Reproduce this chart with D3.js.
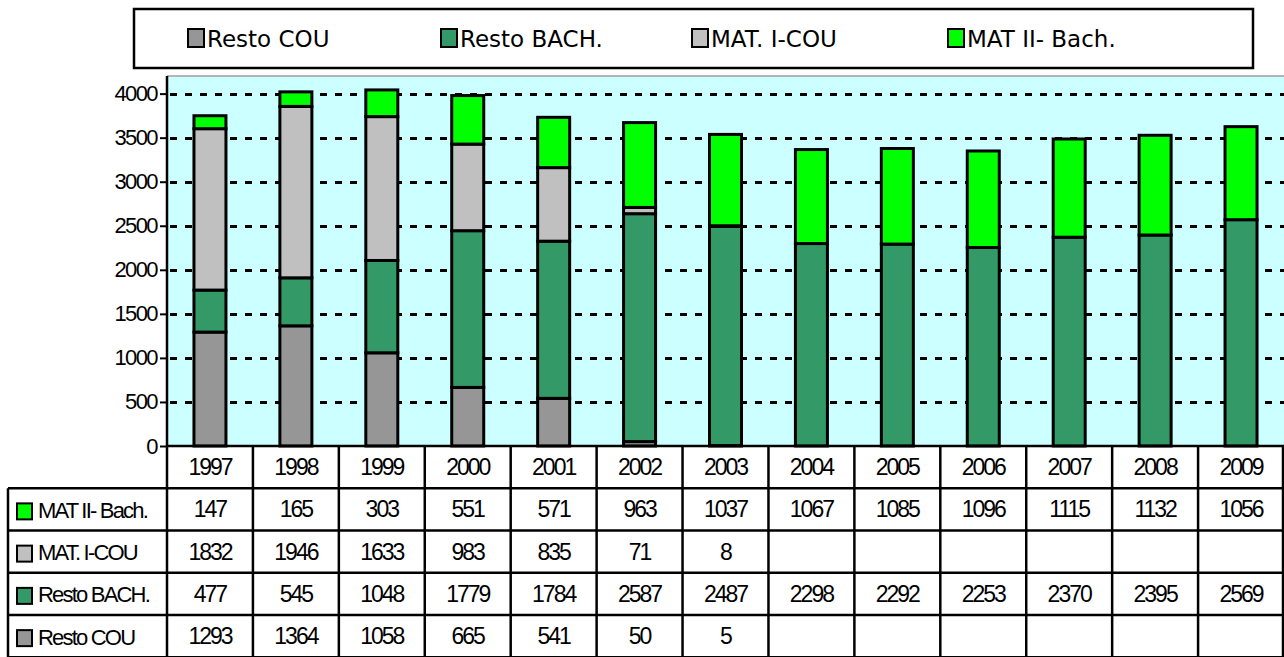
<!DOCTYPE html>
<html>
<head>
<meta charset="utf-8">
<script src="https://d3js.org/d3.v7.min.js"></script>
<style>
  body { margin: 0; background: #fff; }
  svg { display: block; }
  .num { font-family: "Liberation Sans", Arial, sans-serif; }
  .leg { font-family: "Comic Sans MS", "DejaVu Sans", sans-serif; }
</style>
</head>
<body>
<svg id="chart" width="1284" height="657"></svg>
<script>
const years = ["1997", "1998", "1999", "2000", "2001", "2002", "2003", "2004", "2005", "2006", "2007", "2008", "2009"];
const restoCOU = [1293, 1364, 1058, 665, 541, 50, 5, null, null, null, null, null, null];
const restoBACH = [477, 545, 1048, 1779, 1784, 2587, 2487, 2298, 2292, 2253, 2370, 2395, 2569];
const matICOU = [1832, 1946, 1633, 983, 835, 71, 8, null, null, null, null, null, null];
const matIIBach = [147, 165, 303, 551, 571, 963, 1037, 1067, 1085, 1096, 1115, 1132, 1056];
const yTicks = [0, 500, 1000, 1500, 2000, 2500, 3000, 3500, 4000];

// stack order bottom -> top
const series = [
  { key: "restoCOU", name: "Resto COU", tableName: "Resto COU", color: "#969696", values: restoCOU },
  { key: "restoBACH", name: "Resto BACH.", tableName: "Resto BACH.", color: "#339966", values: restoBACH },
  { key: "matICOU", name: "MAT. I-COU", tableName: "MAT. I-COU", color: "#c0c0c0", values: matICOU },
  { key: "matIIBach", name: "MAT II- Bach.", tableName: "MAT II- Bach.", color: "#00ff00", values: matIIBach },
];

const svg = d3.select("#chart");
const plotLeft = 167, plotRight = 1284, plotTop = 76, plotBottom = 446;
const rowH = 42.25, labelLeft = 8;

const x = d3.scaleBand().domain(years).range([plotLeft, plotRight]).paddingInner(0).paddingOuter(0);
const y = d3.scaleLinear().domain([0, 4200]).range([plotBottom, plotTop]);
const barW = 32;

// plot background
svg.append("rect")
  .attr("x", plotLeft).attr("y", plotTop)
  .attr("width", plotRight - plotLeft).attr("height", plotBottom - plotTop)
  .attr("fill", "#ccffff");
svg.append("line")
  .attr("x1", plotLeft).attr("x2", plotRight)
  .attr("y1", plotTop).attr("y2", plotTop)
  .attr("stroke", "#b4b4b4").attr("stroke-width", 2);

// gridlines
svg.append("g")
  .selectAll("line")
  .data(yTicks.filter((d) => d > 0))
  .enter()
  .append("line")
  .attr("x1", plotLeft).attr("x2", plotRight)
  .attr("y1", (d) => Math.round(y(d)) + 0.5).attr("y2", (d) => Math.round(y(d)) + 0.5)
  .attr("stroke", "#000").attr("stroke-width", 3)
  .attr("stroke-dasharray", "7,8")
  .attr("stroke-dashoffset", -3);

// stacked bars
const rows = years.map((yr, i) => {
  const o = { year: yr };
  series.forEach((s) => (o[s.key] = s.values[i] || 0));
  return o;
});
const stacked = d3.stack().keys(series.map((s) => s.key))(rows);

svg.append("g")
  .selectAll("g")
  .data(stacked)
  .enter()
  .append("g")
  .attr("fill", (d, i) => series[i].color)
  .selectAll("rect")
  .data((d) => d.filter((p) => p[1] - p[0] > 0))
  .enter()
  .append("rect")
  .attr("x", (d) => x(d.data.year) + x.bandwidth() / 2 - barW / 2)
  .attr("y", (d) => y(d[1]))
  .attr("width", barW)
  .attr("height", (d) => y(d[0]) - y(d[1]))
  .attr("stroke", "#000")
  .attr("stroke-width", 3);

// y axis
const yAxis = svg.append("g")
  .attr("transform", `translate(${plotLeft},0)`)
  .call(d3.axisLeft(y).tickValues(yTicks).tickSize(7).tickPadding(3).tickFormat(d3.format("d")));
yAxis.select(".domain").attr("stroke", "#000").attr("stroke-width", 2.5)
  .attr("d", `M0,${plotTop}V${plotBottom}`);
yAxis.selectAll(".tick line").attr("stroke", "#000").attr("stroke-width", 2);
yAxis.selectAll(".tick text")
  .attr("class", "num")
  .attr("fill", "#000")
  .style("font-size", "22px")
  .style("letter-spacing", "-1.6px");

// data table
const table = svg.append("g");
const tableRows = series.slice().reverse(); // MAT II on top
const headerTop = plotBottom;
const bodyTop = headerTop + rowH;

// year header
table.selectAll("text.year")
  .data(years)
  .enter()
  .append("text")
  .attr("class", "num year")
  .attr("x", (d) => x(d) + x.bandwidth() / 2)
  .attr("y", headerTop + rowH / 2)
  .attr("text-anchor", "middle")
  .attr("dominant-baseline", "central")
  .style("font-size", "23px")
  .style("letter-spacing", "-2px")
  .text((d) => d);

tableRows.forEach((s, r) => {
  const cy = bodyTop + r * rowH + rowH / 2;
  const g = table.append("g");
  g.selectAll("text")
    .data(s.values.map((v, i) => ({ v, yr: years[i] })).filter((d) => d.v !== null))
    .enter()
    .append("text")
    .attr("class", "num")
    .attr("x", (d) => x(d.yr) + x.bandwidth() / 2)
    .attr("y", cy)
    .attr("text-anchor", "middle")
    .attr("dominant-baseline", "central")
    .style("font-size", "23px")
    .style("letter-spacing", "-2px")
    .text((d) => d.v);
  g.append("rect")
    .attr("x", 17).attr("y", cy - 6)
    .attr("width", 15).attr("height", 16)
    .attr("fill", s.color).attr("stroke", "#000").attr("stroke-width", 2);
  g.append("text")
    .attr("class", "num")
    .attr("x", 38).attr("y", cy + 1)
    .attr("dominant-baseline", "central")
    .style("font-size", "22px")
    .style("letter-spacing", "-1.8px")
    .text(s.tableName);
});

// table grid lines
const gridG = table.append("g").attr("stroke", "#000").attr("stroke-width", 2.5);
const vLines = years.map((d) => x(d)).concat([plotRight - 1]);
vLines.forEach((vx) => {
  gridG.append("line").attr("x1", vx).attr("x2", vx).attr("y1", headerTop).attr("y2", 657);
});
gridG.append("line").attr("x1", labelLeft).attr("x2", labelLeft).attr("y1", bodyTop).attr("y2", 657);
for (let r = 0; r <= 4; r++) {
  const ly = bodyTop + r * rowH;
  gridG.append("line").attr("x1", labelLeft).attr("x2", plotRight).attr("y1", ly).attr("y2", ly);
}
gridG.append("line").attr("x1", plotLeft).attr("x2", plotRight).attr("y1", headerTop).attr("y2", headerTop);

// legend
const legend = svg.append("g");
legend.append("rect")
  .attr("x", 134).attr("y", 9)
  .attr("width", 1119).attr("height", 59)
  .attr("fill", "#fff").attr("stroke", "#000").attr("stroke-width", 2.5);
const legX = [188, 441, 692, 948];
series.forEach((s, i) => {
  legend.append("rect")
    .attr("x", legX[i]).attr("y", 29)
    .attr("width", 16).attr("height", 18)
    .attr("fill", s.color).attr("stroke", "#000").attr("stroke-width", 2);
  legend.append("text")
    .attr("class", "leg")
    .attr("x", legX[i] + 19).attr("y", 39)
    .attr("dominant-baseline", "central")
    .style("font-size", "23px")
    .text(s.name);
});
</script>
</body>
</html>
